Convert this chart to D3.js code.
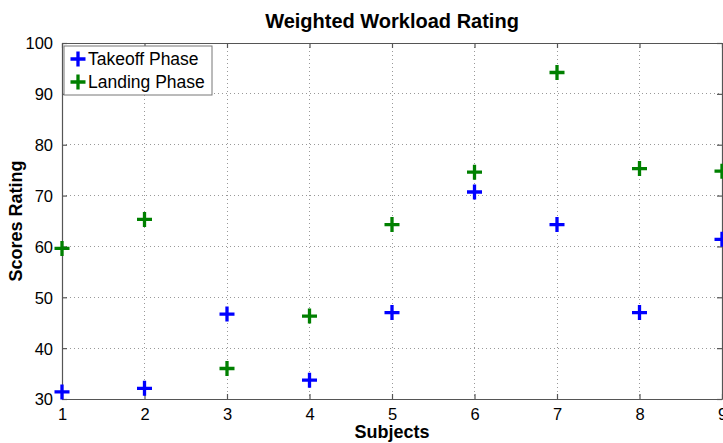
<!DOCTYPE html>
<html>
<head>
<meta charset="utf-8">
<script src="https://cdn.jsdelivr.net/npm/d3@7"></script>
<style>
  html, body { margin: 0; padding: 0; background: #fff; }
  svg { display: block; font-family: "Liberation Sans", Arial, Helvetica, sans-serif; }
</style>
</head>
<body>
<svg id="chart" width="723" height="443"></svg>
<script>
// Subjects 1..9 and their weighted workload scores per flight phase
const subjects = [1, 2, 3, 4, 5, 6, 7, 8, 9];
const takeoffScores = [31.4, 32.1, 46.7, 33.7, 47.0, 70.7, 64.3, 47.0, 61.4];
const landingScores = [59.6, 65.3, 36.0, 46.3, 64.3, 74.6, 94.2, 75.3, 74.8];
const xTicks = [1, 2, 3, 4, 5, 6, 7, 8, 9];
const yTicks = [30, 40, 50, 60, 70, 80, 90, 100];

const series = [
  { name: "Takeoff Phase", color: "#0000ff", values: takeoffScores },
  { name: "Landing Phase", color: "#008000", values: landingScores }
];

const W = 723, H = 443;
const margin = { left: 62, right: 1, top: 43, bottom: 44 };
const x0 = margin.left, x1 = W - margin.right;
const y0 = H - margin.bottom, y1 = margin.top;

const svg = d3.select("#chart");
const x = d3.scaleLinear().domain([1, 9]).range([x0, x1]);
const y = d3.scaleLinear().domain([30, 100]).range([y0, y1]);

const axisColor = "#555";
const tickLen = 5;

// dotted grid
const grid = svg.append("g");
grid.selectAll("line.gx").data(xTicks.slice(1, -1)).join("line")
  .attr("x1", d => x(d)).attr("x2", d => x(d))
  .attr("y1", y1).attr("y2", y0)
  .attr("stroke", "#999").attr("stroke-width", 1)
  .attr("stroke-dasharray", "1,3").attr("shape-rendering", "crispEdges");
grid.selectAll("line.gy").data(yTicks.slice(1, -1)).join("line")
  .attr("x1", x0).attr("x2", x1)
  .attr("y1", d => y(d)).attr("y2", d => y(d))
  .attr("stroke", "#999").attr("stroke-width", 1)
  .attr("stroke-dasharray", "1,3").attr("shape-rendering", "crispEdges");

// axes with inward ticks on all four sides
const fmt = d3.format("d");
const axisBottomG = svg.append("g").attr("transform", `translate(0,${y0})`)
  .call(d3.axisBottom(x).tickValues(xTicks).tickFormat(fmt).tickSizeInner(-tickLen).tickSizeOuter(0).tickPadding(tickLen + 4));
const axisTopG = svg.append("g").attr("transform", `translate(0,${y1})`)
  .call(d3.axisTop(x).tickValues(xTicks).tickFormat("").tickSizeInner(-tickLen).tickSizeOuter(0));
const axisLeftG = svg.append("g").attr("transform", `translate(${x0},0)`)
  .call(d3.axisLeft(y).tickValues(yTicks).tickFormat(fmt).tickSizeInner(-tickLen).tickSizeOuter(0).tickPadding(tickLen + 4));
const axisRightG = svg.append("g").attr("transform", `translate(${x1},0)`)
  .call(d3.axisRight(y).tickValues(yTicks).tickFormat("").tickSizeInner(-tickLen).tickSizeOuter(0));

[axisBottomG, axisTopG, axisLeftG, axisRightG].forEach(g => {
  g.selectAll(".domain").attr("stroke", axisColor).attr("stroke-width", 1.2);
  g.selectAll(".tick line").attr("stroke", axisColor).attr("stroke-width", 1.2);
  g.selectAll("text").attr("fill", "#000").attr("font-size", 16.5)
    .attr("font-family", "Liberation Sans, Arial, sans-serif");
});
axisBottomG.selectAll("text").attr("dy", "0.71em");
axisLeftG.selectAll("text").attr("dy", "0.36em");

// plus markers
function plusPath(size) {
  const h = size / 2;
  return `M${-h},0H${h}M0,${-h}V${h}`;
}
const marks = svg.append("g");
series.forEach(s => {
  marks.append("g").selectAll("path").data(subjects).join("path")
    .attr("transform", (d, i) => `translate(${x(d)},${y(s.values[i])})`)
    .attr("d", plusPath(15))
    .attr("stroke", s.color).attr("stroke-width", 3.3).attr("fill", "none");
});

// legend
const lg = svg.append("g").attr("transform", "translate(64,46)");
lg.append("rect").attr("width", 148).attr("height", 49)
  .attr("fill", "#fff").attr("stroke", "#777").attr("stroke-width", 1);
series.forEach((s, i) => {
  const cy = 13 + i * 23;
  lg.append("path").attr("transform", `translate(14,${cy})`)
    .attr("d", plusPath(15)).attr("stroke", s.color).attr("stroke-width", 3.3).attr("fill", "none");
  lg.append("text").attr("x", 24).attr("y", cy).attr("dy", "0.36em")
    .attr("font-size", 17.5).attr("fill", "#000").text(s.name);
});

// titles
svg.append("text").attr("x", (x0 + x1) / 2).attr("y", 28)
  .attr("text-anchor", "middle").attr("font-weight", "bold").attr("font-size", 20)
  .text("Weighted Workload Rating");
svg.append("text").attr("x", (x0 + x1) / 2).attr("y", 438)
  .attr("text-anchor", "middle").attr("font-weight", "bold").attr("font-size", 18)
  .text("Subjects");
svg.append("text").attr("transform", `translate(22,${(y0 + y1) / 2}) rotate(-90)`)
  .attr("text-anchor", "middle").attr("font-weight", "bold").attr("font-size", 18)
  .text("Scores Rating");
</script>
</body>
</html>
